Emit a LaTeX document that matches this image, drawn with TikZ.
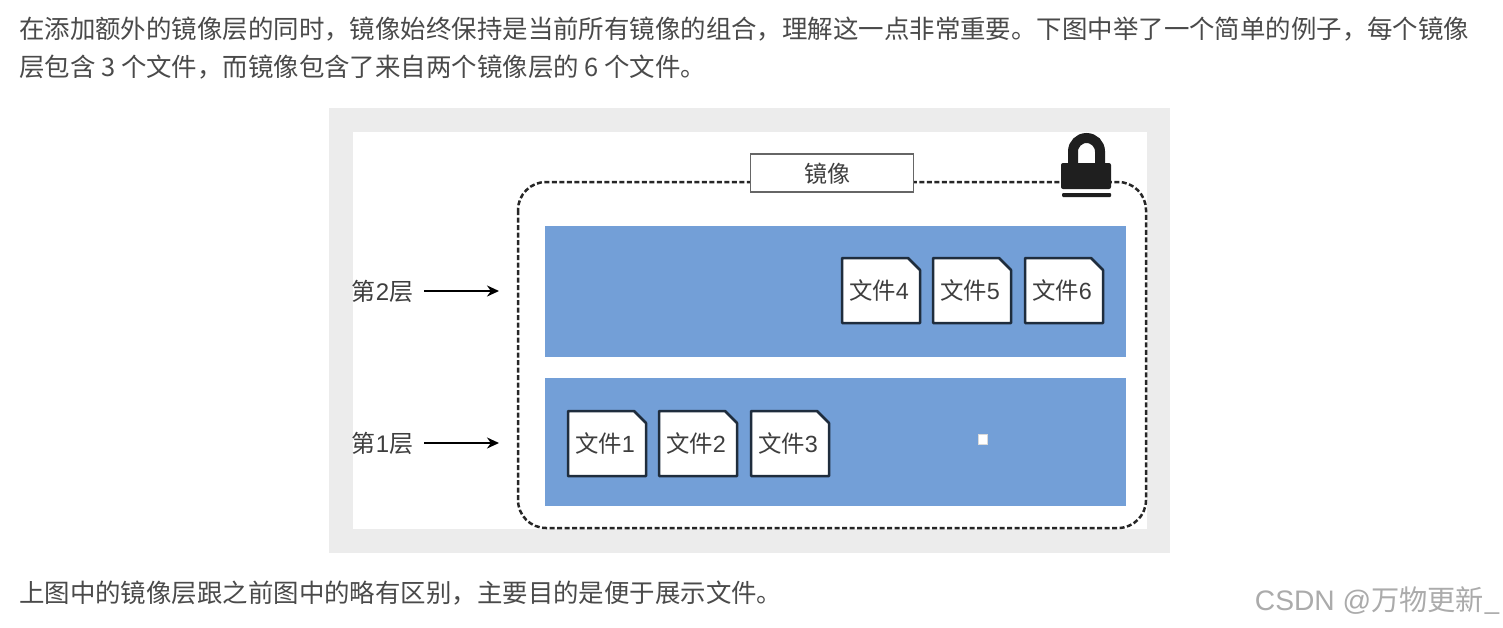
\documentclass[tikz,border=0pt]{standalone}
\usepackage{fontspec}
\setmainfont{Noto Sans CJK SC}
\newfontfamily\latinf{Liberation Sans}
\usetikzlibrary{arrows.meta}
\definecolor{frameg}{HTML}{ECECEC}
\definecolor{layerb}{HTML}{739FD7}
\definecolor{inkd}{HTML}{1F2D3D}
\definecolor{txtg}{HTML}{4A4A4A}
\definecolor{diagt}{HTML}{3E3E3E}
\tikzset{
  para/.style={anchor=west,inner sep=0,text=txtg,font=\fontsize{25.44}{28}\selectfont},
  lbl/.style={inner sep=0,text=diagt,font=\fontsize{24}{27}\selectfont},
  filetxt/.style={inner sep=0,text=diagt,font=\fontsize{23.4}{27}\selectfont},
  layer/.style={fill=layerb,draw=none},
  filebody/.style={draw=inkd,line width=2.5pt,fill=white,line join=round},
  arr/.style={draw=black,line width=2.5pt,-{Stealth[length=12pt,width=11pt]}},
}
\newcommand{\filedoc}[4]{% name, x, y, text
  \draw[filebody] (#2,#3) -- ++(66,0) -- ++(12,12) -- ++(0,53) -- ++(-78,0) -- cycle;
  \node[filetxt] (#1) at (#2+37,#3+33) {#4};
}
\begin{document}
\begin{tikzpicture}[x=1pt,y=-1pt]
\useasboundingbox (0,0) rectangle (1503,627);
\fill[white] (0,0) rectangle (1503,627);
\node[para] (t1) at (19,29) {在添加额外的镜像层的同时，镜像始终保持是当前所有镜像的组合，理解这一点非常重要。下图中举了一个简单的例子，每个镜像};
\node[para] (t2) at (19,67) {层包含 3 个文件，而镜像包含了来自两个镜像层的 6 个文件。};
\node[para] (t3) at (19,593) {上图中的镜像层跟之前图中的略有区别，主要目的是便于展示文件。};
\node[anchor=east,inner sep=0,text=black!33,font=\fontsize{28.2}{32}\selectfont] (wm) at (1500,601) {{\latinf CSDN @}万物更新\_};
\fill[frameg] (329,108) rectangle (1170,553);
\fill[white] (353,132) rectangle (1147,529);
\draw[black!85,line width=2.5pt,dash pattern=on 5pt off 2.5pt,rounded corners=28pt] (518,182) rectangle (1146,528);
\fill[layer] (545,226) rectangle (1126,357);
\fill[layer] (545,378) rectangle (1126,506);
\node[draw=black!60,line width=1.5pt,fill=white,minimum width=163pt,minimum height=38pt,inner sep=0,text=diagt,font=\fontsize{23}{26}\selectfont,text depth=0pt] (img) at (832,173) {\hspace*{-10pt}镜像};
% lock
\draw[black!88,line width=10pt] (1073,168) -- (1073,151.5) arc[start angle=180,end angle=360,radius=13.5] -- (1100,168);
\fill[black!88,rounded corners=2pt] (1061,163) rectangle (1111,189);
\fill[black!88,rounded corners=1pt] (1062,193) rectangle (1111,197);
\filedoc{f4}{842}{258}{文件{\latinf 4}}
\filedoc{f5}{933}{258}{文件{\latinf 5}}
\filedoc{f6}{1025}{258}{文件{\latinf 6}}
\filedoc{f1}{568}{411}{文件{\latinf 1}}
\filedoc{f2}{659}{411}{文件{\latinf 2}}
\filedoc{f3}{751}{411}{文件{\latinf 3}}
\fill[white,draw=black!15] (978,434) rectangle (987,444);
\node[lbl] (l2) at (382.5,291) {第{\latinf 2}层};
\node[lbl] (l1) at (382.5,443) {第{\latinf 1}层};
\coordinate (e2) at (499,291);
\coordinate (e1) at (499,443);
\draw[arr] (l2.east) ++(11,0) -- (e2);
\draw[arr] (l1.east) ++(11,0) -- (e1);
\end{tikzpicture}
\end{document}
